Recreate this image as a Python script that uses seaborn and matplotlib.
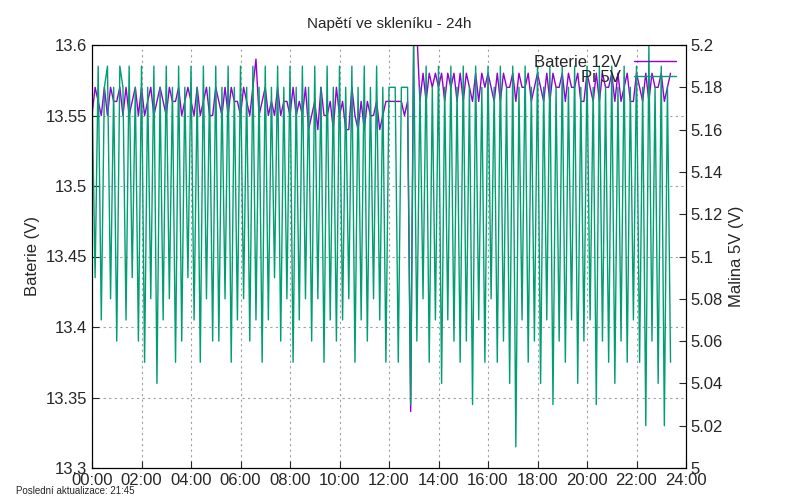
import matplotlib
matplotlib.use("Agg")
import matplotlib.pyplot as plt
import seaborn as sns
import numpy as np
import pandas as pd

# 7.5 minute samples, one row per hour
baterie_rows = [
    [13.55, 13.57, 13.56, 13.55, 13.57, 13.55, 13.57, 13.56],
    [13.56, 13.57, 13.55, 13.57, 13.55, 13.56, 13.57, 13.55],
    [13.57, 13.55, 13.56, 13.57, 13.55, 13.56, 13.57, 13.56],
    [13.55, 13.57, 13.56, 13.56, 13.57, 13.55, 13.56, 13.57],
    [13.56, 13.55, 13.57, 13.55, 13.56, 13.57, 13.55, 13.55],
    [13.57, 13.56, 13.55, 13.57, 13.55, 13.57, 13.56, 13.56],
    [13.55, 13.57, 13.56, 13.55, 13.57, 13.59, 13.55, 13.56],
    [13.57, 13.55, 13.56, 13.55, 13.57, 13.55, 13.56, 13.56],
    [13.55, 13.57, 13.55, 13.56, 13.55, 13.57, 13.54, 13.55],
    [13.56, 13.54, 13.57, 13.55, 13.55, 13.56, 13.54, 13.57],
    [13.55, 13.56, 13.54, 13.54, 13.57, 13.55, 13.54, 13.56],
    [13.54, 13.56, 13.55, 13.55, 13.56, 13.54, 13.55, 13.56],
    [13.56, 13.56, 13.56, 13.56, 13.56, 13.55, 13.56, 13.34],
    [13.62, 13.61, 13.56, 13.58, 13.56, 13.58, 13.57, 13.58],
    [13.57, 13.58, 13.56, 13.58, 13.57, 13.58, 13.56, 13.58],
    [13.56, 13.58, 13.57, 13.56, 13.58, 13.56, 13.58, 13.57],
    [13.58, 13.57, 13.56, 13.58, 13.56, 13.58, 13.57, 13.57],
    [13.58, 13.56, 13.58, 13.57, 13.57, 13.58, 13.56, 13.57],
    [13.58, 13.57, 13.56, 13.58, 13.56, 13.58, 13.57, 13.57],
    [13.58, 13.56, 13.58, 13.57, 13.57, 13.58, 13.56, 13.56],
    [13.58, 13.57, 13.56, 13.58, 13.56, 13.58, 13.57, 13.57],
    [13.58, 13.56, 13.58, 13.56, 13.57, 13.58, 13.56, 13.56],
    [13.58, 13.57, 13.56, 13.58, 13.56, 13.58, 13.57, 13.57],
    [13.58, 13.56, 13.57, 13.58],
]
pi_rows = [
    [5.18, 5.09, 5.19, 5.07, 5.18, 5.19, 5.08, 5.18],
    [5.06, 5.19, 5.18, 5.07, 5.19, 5.09, 5.18, 5.06],
    [5.19, 5.05, 5.18, 5.08, 5.19, 5.04, 5.18, 5.07],
    [5.19, 5.08, 5.18, 5.05, 5.19, 5.06, 5.18, 5.09],
    [5.19, 5.07, 5.18, 5.05, 5.19, 5.08, 5.18, 5.06],
    [5.19, 5.06, 5.18, 5.08, 5.19, 5.05, 5.18, 5.07],
    [5.19, 5.08, 5.18, 5.06, 5.19, 5.07, 5.18, 5.05],
    [5.19, 5.07, 5.18, 5.09, 5.19, 5.06, 5.18, 5.08],
    [5.19, 5.05, 5.18, 5.07, 5.19, 5.08, 5.18, 5.06],
    [5.19, 5.08, 5.18, 5.05, 5.19, 5.07, 5.18, 5.06],
    [5.19, 5.07, 5.18, 5.08, 5.19, 5.05, 5.18, 5.07],
    [5.19, 5.06, 5.18, 5.08, 5.19, 5.07, 5.18, 5.05],
    [5.18, 5.18, 5.18, 5.05, 5.18, 5.18, 5.18, 5.03],
    [5.20, 5.06, 5.18, 5.08, 5.19, 5.05, 5.18, 5.07],
    [5.19, 5.04, 5.18, 5.07, 5.19, 5.06, 5.18, 5.05],
    [5.19, 5.06, 5.18, 5.03, 5.19, 5.07, 5.18, 5.05],
    [5.19, 5.08, 5.18, 5.05, 5.19, 5.06, 5.18, 5.04],
    [5.19, 5.01, 5.18, 5.07, 5.19, 5.05, 5.18, 5.06],
    [5.19, 5.04, 5.18, 5.07, 5.19, 5.03, 5.18, 5.06],
    [5.19, 5.05, 5.18, 5.07, 5.19, 5.04, 5.18, 5.06],
    [5.19, 5.07, 5.18, 5.03, 5.19, 5.06, 5.18, 5.05],
    [5.19, 5.04, 5.18, 5.06, 5.19, 5.05, 5.18, 5.07],
    [5.19, 5.05, 5.18, 5.02, 5.20, 5.06, 5.18, 5.04],
    [5.19, 5.02, 5.18, 5.05],
]
hour_ticks = [f"{h:02d}:00" for h in range(0, 25, 2)]

baterie = [v for row in baterie_rows for v in row]
pi = [v for row in pi_rows for v in row]
df = pd.DataFrame({"hodina": np.arange(len(baterie)) * 0.125,
                   "baterie": baterie, "pi": pi})

sns.set_style("ticks")
plt.rcParams["font.family"] = ["Liberation Sans", "DejaVu Sans"]

fig, ax = plt.subplots(figsize=(8, 5), dpi=100)
fig.subplots_adjust(left=0.115, right=0.8575, top=0.91, bottom=0.064)
ax2 = ax.twinx()

sns.lineplot(data=df, x="hodina", y="baterie", ax=ax, color="#9400d3",
             lw=1, label="Baterie 12V", legend=False)
sns.lineplot(data=df, x="hodina", y="pi", ax=ax2, color="#009e73",
             lw=1, label="Pi 5V", legend=False)

ax.set_xlim(0, 24)
ax.set_ylim(13.3, 13.6)
ax2.set_ylim(5.0, 5.2)
ax.set_xticks(range(0, 25, 2))
ax.set_xticklabels(hour_ticks)
ax.set_yticks(np.arange(13.3, 13.601, 0.05))
ax.set_yticklabels(["13.3", "13.35", "13.4", "13.45", "13.5", "13.55", "13.6"])
ax2.set_yticks(np.arange(5.0, 5.201, 0.02))
ax2.set_yticklabels(["5", "5.02", "5.04", "5.06", "5.08", "5.1", "5.12",
                     "5.14", "5.16", "5.18", "5.2"])
ax.grid(True, color="#a0a0a0", ls=(0, (2, 3)), lw=0.8)
for a in (ax, ax2):
    a.tick_params(direction="in", labelsize=12, length=5)
    for s in a.spines.values():
        s.set_color("black")
ax.set_xlabel("")
ax.set_ylabel("Baterie (V)", fontsize=12)
ax2.set_ylabel("Malina 5V (V)", fontsize=12)
ax.set_title("Napětí ve skleníku - 24h", fontsize=11, pad=12)

h1, l1 = ax.get_legend_handles_labels()
h2, l2 = ax2.get_legend_handles_labels()
ax2.legend(h1 + h2, l1 + l2, loc="upper right", frameon=False, fontsize=12,
           handlelength=2.5, borderpad=0.1, labelspacing=0.0, markerfirst=False)

fig.text(0.02, 0.012, "Poslední aktualizace: 21:45", fontsize=7)
fig.savefig("out.png")
